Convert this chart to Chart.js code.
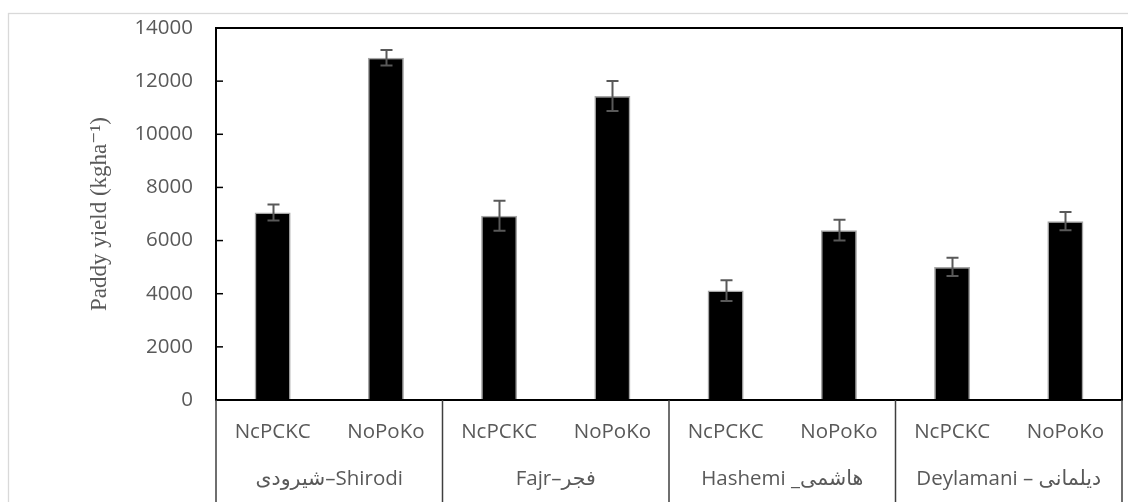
<!DOCTYPE html>
<html>
<head>
<meta charset="utf-8">
<script src="https://cdn.jsdelivr.net/npm/chart.js@4.4.1/dist/chart.umd.min.js"></script>
<style>
  html, body { margin: 0; padding: 0; background: #ffffff; overflow: hidden; }
  canvas { display: block; }
</style>
</head>
<body>
<canvas id="chart" width="1128" height="502"></canvas>
<script>
// Fertilizer treatment under each cultivar
const treatments = ['NcPCKC', 'NoPoKo', 'NcPCKC', 'NoPoKo', 'NcPCKC', 'NoPoKo', 'NcPCKC', 'NoPoKo'];
// Rice cultivars (two treatments each)
const cultivars = ['شیرودی–Shirodi', 'Fajr–فجر', 'Hashemi _هاشمی', 'Deylamani – دیلمانی'];
// Mean paddy yield (kg/ha) and standard error
const yieldMeans = [7060, 12880, 6930, 11440, 4120, 6390, 5010, 6730];
const yieldErrors = [300, 295, 565, 565, 390, 390, 345, 345];
// Y axis range
const yMin = 0;
const yMax = 14000;
const yStep = 2000;

const TEXT = '#595959';
const SANS = '"Open Sans", "DejaVu Sans", sans-serif';

const framePlugin = {
  id: 'frame',
  beforeDraw(chart) {
    const ctx = chart.ctx;
    ctx.save();
    ctx.strokeStyle = '#d9d9d9';
    ctx.lineWidth = 1.3;
    ctx.strokeRect(8.5, 13.5, 2000, 2000);
    ctx.restore();
  },
  afterDatasetsDraw(chart) {
    // error bars
    const ctx = chart.ctx;
    const y = chart.scales.y;
    const meta = chart.getDatasetMeta(0);
    ctx.save();
    ctx.strokeStyle = '#595959';
    ctx.lineWidth = 2;
    meta.data.forEach((bar, i) => {
      const cx = Math.round(bar.x) + 0.5;
      const top = y.getPixelForValue(yieldMeans[i] + yieldErrors[i]);
      const bot = y.getPixelForValue(yieldMeans[i] - yieldErrors[i]);
      ctx.beginPath();
      ctx.moveTo(cx, top); ctx.lineTo(cx, bot);
      ctx.moveTo(cx - 6, top); ctx.lineTo(cx + 6, top);
      ctx.moveTo(cx - 6, bot); ctx.lineTo(cx + 6, bot);
      ctx.stroke();
    });
    ctx.restore();
  },
  afterDraw(chart) {
    const ctx = chart.ctx;
    const a = chart.chartArea;
    const x = chart.scales.x;
    const y = chart.scales.y;
    ctx.save();
    // inner tick marks on the value axis
    ctx.strokeStyle = '#000000';
    ctx.lineWidth = 1.5;
    y.ticks.forEach(t => {
      const py = y.getPixelForValue(t.value);
      ctx.beginPath();
      ctx.moveTo(a.left, py); ctx.lineTo(a.left + 7, py);
      ctx.stroke();
    });
    // plot frame
    ctx.lineWidth = 2;
    ctx.strokeRect(a.left, a.top, a.right - a.left, a.bottom - a.top);
    // group separators below the plot
    ctx.strokeStyle = '#3f3f3f';
    ctx.lineWidth = 1.5;
    const step = x.getPixelForValue(1) - x.getPixelForValue(0);
    for (let g = 0; g <= cultivars.length; g++) {
      const px = x.getPixelForValue(g * 2) - step / 2;
      ctx.beginPath();
      ctx.moveTo(px, a.bottom); ctx.lineTo(px, chart.height);
      ctx.stroke();
    }
    ctx.restore();
  }
};

new Chart(document.getElementById('chart'), {
  type: 'bar',
  data: {
    labels: treatments,
    datasets: [{
      data: yieldMeans,
      backgroundColor: '#000000',
      borderColor: '#a6a6a6',
      borderWidth: 1.5,
      barPercentage: 0.318,
      categoryPercentage: 1
    }]
  },
  options: {
    responsive: false,
    animation: false,
    layout: { padding: { top: 28, right: 6, left: 0, bottom: 0 } },
    plugins: { legend: { display: false }, tooltip: { enabled: false } },
    scales: {
      x: {
        weight: 0,
        grid: { display: false, drawTicks: false },
        border: { display: false },
        ticks: { color: TEXT, font: { family: SANS, size: 20.5 }, padding: 20, maxRotation: 0, autoSkip: false },
        afterFit(s) { s.height = 56; }
      },
      x2: {
        type: 'category',
        position: 'bottom',
        labels: cultivars,
        offset: true,
        weight: 1,
        grid: { display: false, drawTicks: false },
        border: { display: false },
        ticks: { color: TEXT, font: { family: SANS, size: 20.5 }, padding: 11, maxRotation: 0, autoSkip: false },
        afterFit(s) { s.height = 46; }
      },
      y: {
        min: yMin,
        max: yMax,
        grid: { display: false, drawTicks: false },
        border: { display: false },
        ticks: {
          stepSize: yStep, color: TEXT, font: { family: SANS, size: 20.5 }, padding: 23,
          callback: v => String(v)
        },
        title: {
          display: true,
          text: 'Paddy yield (kgha⁻¹)',
          color: TEXT,
          font: { family: '"Liberation Serif", "DejaVu Serif", serif', size: 23 },
          padding: { top: 86, bottom: 0 }
        },
        afterFit(s) { s.width = 216; s.paddingTop = 0; s.paddingBottom = 0; }
      }
    }
  },
  plugins: [framePlugin]
});
</script>
</body>
</html>
